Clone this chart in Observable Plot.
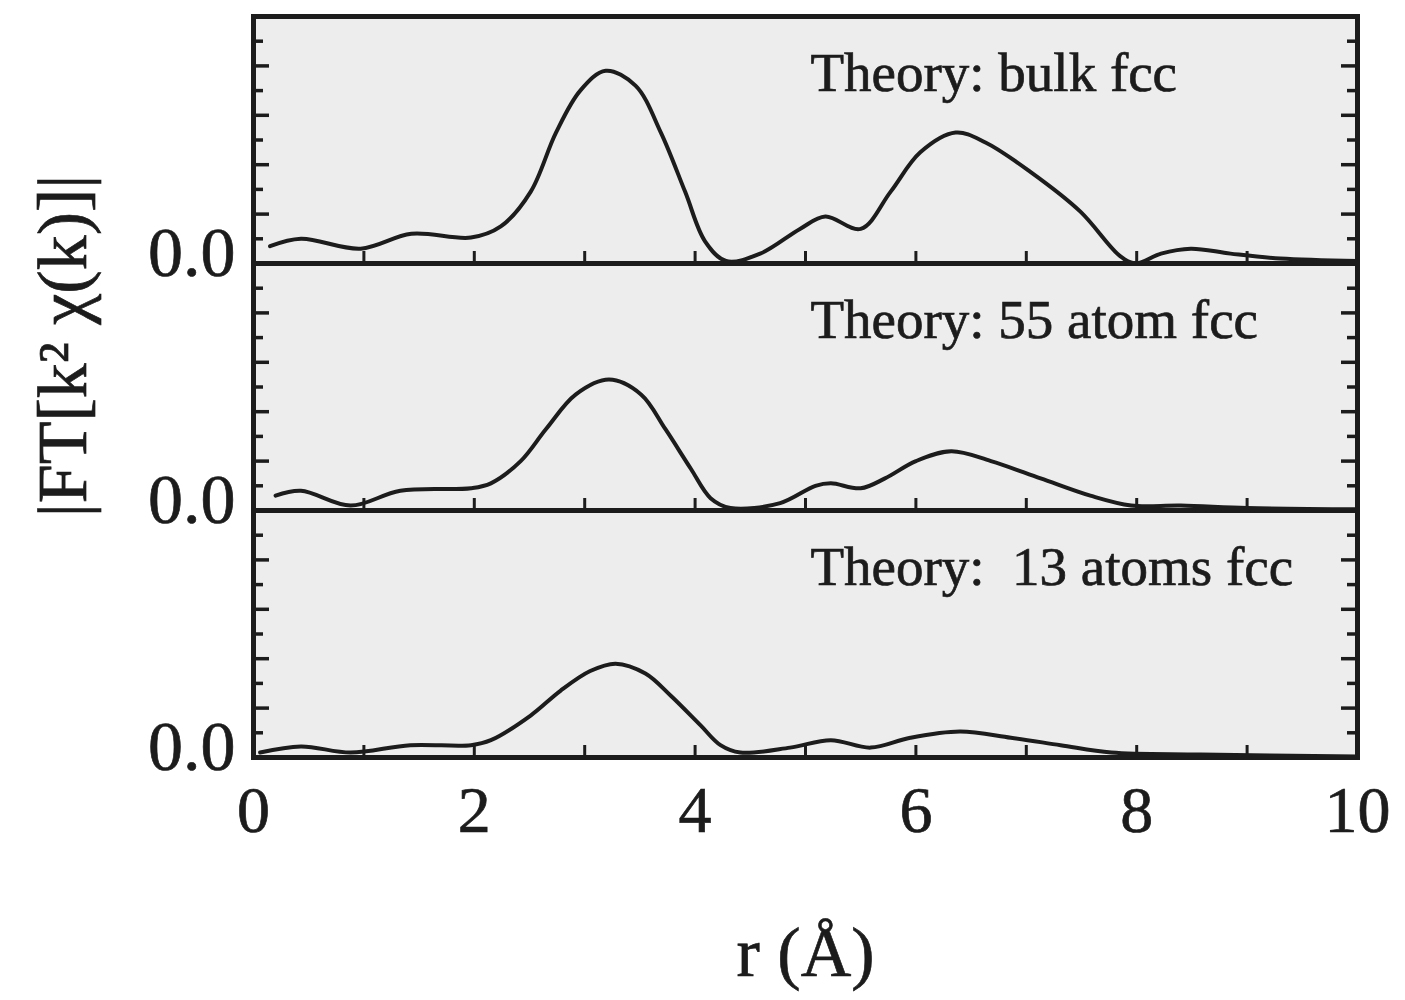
<!DOCTYPE html>
<html><head><meta charset="utf-8">
<script src="https://cdn.jsdelivr.net/npm/d3@7"></script>
<script src="https://cdn.jsdelivr.net/npm/@observablehq/plot@0.6"></script>
<style>
body{margin:0;background:#fff}
#chart svg text{white-space:pre;stroke:#1c1c1c;stroke-width:0.7px}
</style>
</head><body><div id="chart"></div>
<script>
// Panel labels (facets, top to bottom)
const panels = ["Theory: bulk fcc", "Theory: 55 atom fcc", "Theory:  13 atoms fcc"];

// |FT[k^2 chi(k)]| (arbitrary units, each panel 0..1)
const rBulk  = [0.15,0.43,0.97,1.43,1.97,2.24,2.51,2.74,2.96,3.19,3.46,3.69,3.91,4.09,4.28,4.59,4.95,5.18,5.50,5.77,6.04,6.36,6.63,7.04,7.49,7.85,7.99,8.22,8.49,8.85,9.30,10.0];
const ftBulk = [0.07,0.10,0.06,0.12,0.105,0.15,0.29,0.53,0.70,0.78,0.72,0.53,0.29,0.09,0.01,0.04,0.14,0.19,0.14,0.29,0.45,0.53,0.49,0.37,0.21,0.03,0.0,0.04,0.06,0.04,0.02,0.01];

const r55  = [0.2,0.43,0.88,1.33,1.97,2.15,2.42,2.65,2.92,3.22,3.51,3.73,3.96,4.14,4.32,4.77,5.09,5.23,5.50,5.72,6.0,6.32,6.68,7.13,7.58,7.95,8.4,9.0,10.0];
const ft55 = [0.06,0.08,0.02,0.08,0.09,0.11,0.20,0.33,0.47,0.53,0.47,0.33,0.17,0.05,0.01,0.03,0.10,0.11,0.09,0.13,0.20,0.24,0.20,0.13,0.06,0.02,0.02,0.01,0.005];

const r13  = [0.06,0.43,0.88,1.42,1.97,2.15,2.51,2.78,3.05,3.28,3.55,3.78,4.05,4.23,4.41,4.86,5.23,5.59,5.95,6.4,6.86,7.31,7.77,8.58,10.0];
const ft13 = [0.02,0.045,0.02,0.05,0.05,0.07,0.17,0.27,0.35,0.38,0.34,0.25,0.13,0.05,0.02,0.04,0.07,0.04,0.08,0.105,0.08,0.05,0.02,0.012,0.004];

const xTickLabels = [0, 2, 4, 6, 8, 10];
const xTickMarks = [1, 2, 3, 4, 5, 6, 7, 8, 9];
const yMajor = [0.2, 0.4, 0.6, 0.8];
const yMinor = [0.1, 0.3, 0.5, 0.7, 0.9];
const yZero = [0];
const yLabel = "|FT[k² χ(k)]|";
const xLabel = "r (Å)";

const rows = [
  ...rBulk.map((r, i) => ({panel: panels[0], r, v: ftBulk[i]})),
  ...r55.map((r, i) => ({panel: panels[1], r, v: ft55[i]})),
  ...r13.map((r, i) => ({panel: panels[2], r, v: ft13[i]}))
];

const ink = "#1c1c1c";
const chart = Plot.plot({
  width: 1405,
  height: 1000,
  marginLeft: 253,
  marginRight: 48,
  marginTop: 15,
  marginBottom: 243,
  style: {fontFamily: "Liberation Serif", background: "transparent", color: ink},
  x: {domain: [0, 10]},
  y: {domain: [0, 1]},
  fy: {domain: panels, axis: null, padding: 0},
  marks: [
    Plot.frame({fill: "#ededed", stroke: null}),
    // inward ticks
    Plot.ruleY(yMajor, {y: d => d, x1: 0, x2: 0, insetRight: -16, stroke: ink, strokeWidth: 3.5}),
    Plot.ruleY(yMinor, {y: d => d, x1: 0, x2: 0, insetRight: -10, stroke: ink, strokeWidth: 3.5}),
    Plot.ruleY(yMajor, {y: d => d, x1: 10, x2: 10, insetLeft: -16, stroke: ink, strokeWidth: 3.5}),
    Plot.ruleY(yMinor, {y: d => d, x1: 10, x2: 10, insetLeft: -10, stroke: ink, strokeWidth: 3.5}),
    Plot.ruleX(xTickMarks, {x: d => d, y1: 0, y2: 0, insetTop: -12, stroke: ink, strokeWidth: 3}),
    Plot.line(rows, {x: "r", y: "v", fy: "panel", curve: "catmull-rom", stroke: ink, strokeWidth: 4}),
    Plot.frame({stroke: ink, strokeWidth: 5}),
    Plot.text(panels, {fy: d => d, text: d => d, frameAnchor: "top-left", dx: 557, dy: 57,
      textAnchor: "start", lineAnchor: "middle", fontSize: 55, fill: ink}),
    Plot.axisY({ticks: yZero, tickFormat: d => d.toFixed(1), tickSize: 0, tickPadding: 18,
      fontSize: 70, dy: -10, label: null}),
    Plot.axisX({ticks: xTickLabels, tickSize: 0, tickPadding: 28, fontSize: 66, label: null}),
    Plot.text([panels[1]], {fy: d => d, text: () => yLabel, frameAnchor: "left", rotate: -90,
      textAnchor: "middle", lineAnchor: "middle", dx: -190, dy: -41, fontSize: 70, fill: ink}),
    Plot.text([panels[2]], {fy: d => d, text: () => xLabel, frameAnchor: "bottom",
      textAnchor: "middle", dy: 218, fontSize: 70, fill: ink})
  ]
});
document.getElementById("chart").append(chart);
</script>
</body></html>
